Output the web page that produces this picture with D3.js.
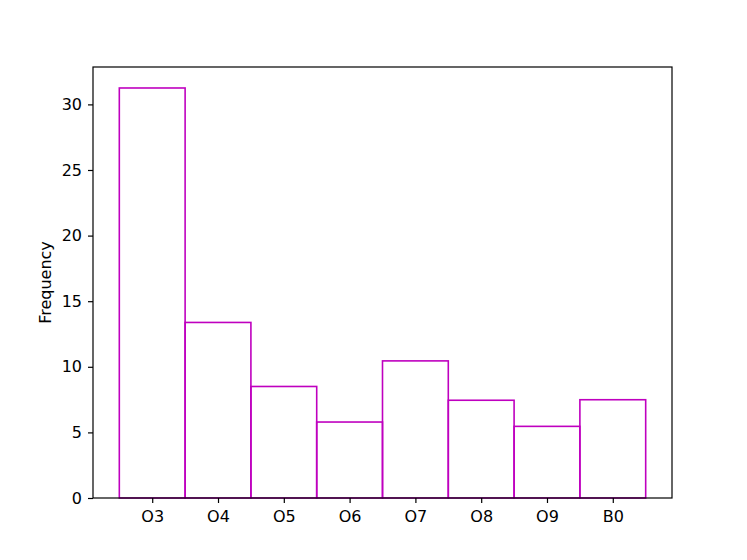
<!DOCTYPE html>
<html>
<head>
<meta charset="utf-8">
<script src="https://cdn.jsdelivr.net/npm/d3@7"></script>
<style>
  body { margin: 0; background: #fff; }
  svg text { font-family: "DejaVu Sans", sans-serif; }
</style>
</head>
<body>
<div id="plot"></div>
<script>
// Chart Data
const categories = ["O3", "O4", "O5", "O6", "O7", "O8", "O9", "B0"];
const frequencies = [31.25, 13.38, 8.5, 5.79, 10.45, 7.45, 5.46, 7.49];
const yTicks = [0, 5, 10, 15, 20, 25, 30];

// Layout
const width = 747;
const height = 560;
const margin = { left: 93, right: 75, top: 67, bottom: 62 };
const color = "#bf00bf";
const fontSize = 16;

const svg = d3.select("#plot")
  .append("svg")
  .attr("width", width)
  .attr("height", height);

// Scales
const x = d3.scaleLinear()
  .domain([-0.9, 7.9])
  .range([margin.left, width - margin.right]);

const y = d3.scaleLinear()
  .domain([0, 32.85])
  .range([height - margin.bottom, margin.top]);

// Bars (outlined, no fill)
svg.append("g")
  .selectAll("rect")
  .data(frequencies)
  .enter().append("rect")
  .attr("x", (d, i) => x(i - 0.5))
  .attr("y", d => y(d))
  .attr("width", (d, i) => x(i + 0.5) - x(i - 0.5))
  .attr("height", d => y(0) - y(d))
  .attr("fill", "none")
  .attr("stroke", color)
  .attr("stroke-width", 1.6);

// Axes
const xAxis = d3.axisBottom(x)
  .tickValues(d3.range(categories.length))
  .tickFormat(i => categories[i])
  .tickSize(5)
  .tickPadding(8);

const yAxis = d3.axisLeft(y)
  .tickValues(yTicks)
  .tickSize(5)
  .tickPadding(6);

const gx = svg.append("g")
  .attr("transform", `translate(0,${y(0)})`)
  .call(xAxis);

const gy = svg.append("g")
  .attr("transform", `translate(${x.range()[0]},0)`)
  .call(yAxis);

[gx, gy].forEach(g => {
  g.select(".domain").remove();
  g.selectAll("text").attr("font-size", fontSize).attr("fill", "#000").attr("font-family", "DejaVu Sans");
  g.selectAll("line").attr("stroke", "#000").attr("stroke-width", 1.2);
});

// Frame
svg.append("rect")
  .attr("x", x.range()[0])
  .attr("y", y.range()[1])
  .attr("width", x.range()[1] - x.range()[0])
  .attr("height", y.range()[0] - y.range()[1])
  .attr("fill", "none")
  .attr("stroke", "#000")
  .attr("stroke-width", 1.2);

// Y label
svg.append("text")
  .attr("transform", `translate(51,${(y.range()[0] + y.range()[1]) / 2}) rotate(-90)`)
  .attr("text-anchor", "middle")
  .attr("font-size", fontSize)
  .text("Frequency");
</script>
</body>
</html>
